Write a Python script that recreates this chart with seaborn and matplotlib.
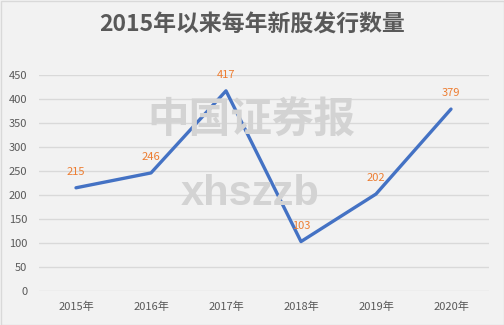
import matplotlib
matplotlib.use("Agg")
import matplotlib.pyplot as plt
import seaborn as sns
import pandas as pd
from matplotlib.patches import Rectangle

years = ["2015年", "2016年", "2017年", "2018年", "2019年", "2020年"]
counts = [215, 246, 417, 103, 202, 379]
yticks = [0, 50, 100, 150, 200, 250, 300, 350, 400, 450]
title = "2015年以来每年新股发行数量"

sns.set_theme(style="white")
plt.rcParams['font.family'] = ['Noto Sans CJK SC', 'DejaVu Sans']

W, H = 504, 325
fig = plt.figure(figsize=(W / 100, H / 100), dpi=100, facecolor="#f2f2f2")
ax = fig.add_axes([38.5 / W, 1 - 291 / H, 450 / W, 216 / H])
ax.set_facecolor("#f2f2f2")

df = pd.DataFrame({"year": years, "count": counts})

# watermark
fig.text(251 / W, 1 - 121 / H, "中国证券报", fontsize=30, fontweight="bold",
         color="#d3d3d3", ha="center", va="center", zorder=0)
fig.text(250 / W, 1 - 194 / H, "xhszzb", fontsize=30, fontweight="bold",
         family=["Liberation Sans", "DejaVu Sans"],
         color="#d3d3d3", ha="center", va="center", zorder=0)

for t in yticks:
    ax.axhline(t, color="#d9d9d9", lw=1, zorder=1)

sns.lineplot(data=df, x="year", y="count", sort=False, ax=ax,
             color="#4472C4", lw=2.4, zorder=3)

for i, v in enumerate(counts):
    ax.annotate(str(v), (i, v), xytext=(0, 11.5), textcoords="offset points",
                ha="center", va="center", fontsize=8, color="#ED7D31", zorder=4)

ax.set_xlim(-0.5, len(years) - 0.5)
ax.set_ylim(0, 450)
ax.set_yticks(yticks)
ax.set_xticks(range(len(years)))
ax.set_xticklabels(years)
ax.tick_params(axis="both", length=0, labelsize=8, labelcolor="#595959")
ax.tick_params(axis="y", pad=8)
ax.tick_params(axis="x", pad=8)
ax.set_xlabel("")
ax.set_ylabel("")
for s in ax.spines.values():
    s.set_visible(False)
ax.patch.set_alpha(0)

fig.text(0.5, 1 - 25 / H, title, fontsize=16.5, fontweight="bold",
         color="#595959", ha="center", va="center")

fig.patches.append(Rectangle((0.5 / W, 0.5 / H), 1 - 1 / W, 1 - 1 / H,
                             transform=fig.transFigure, fill=False,
                             edgecolor="#d9d9d9", lw=1))

fig.savefig("out.png", dpi=100, facecolor=fig.get_facecolor())
